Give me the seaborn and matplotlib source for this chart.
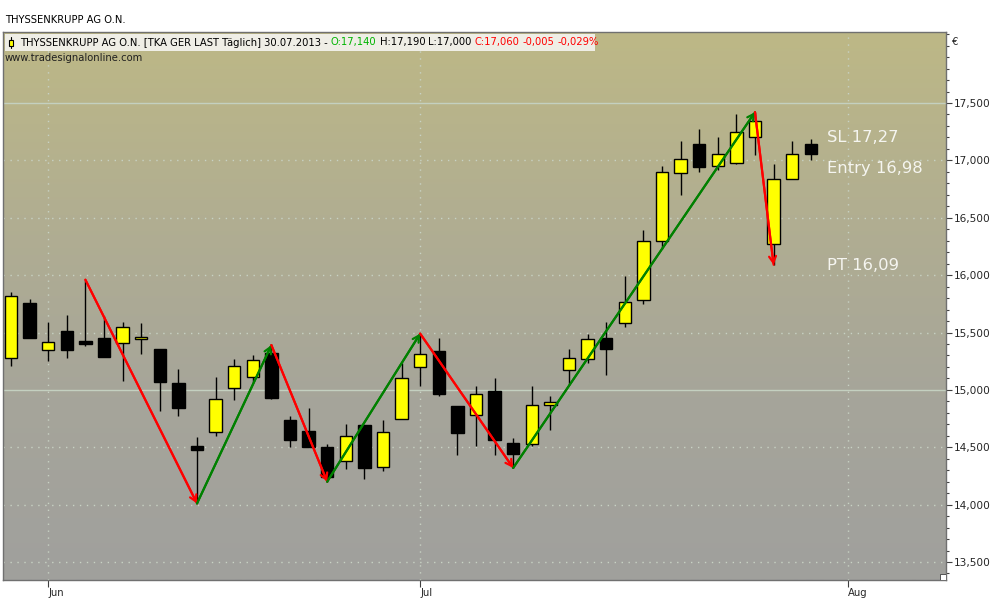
import numpy as np
import pandas as pd
import matplotlib
matplotlib.use("Agg")
import matplotlib.pyplot as plt
import seaborn as sns
from matplotlib.patches import Rectangle
from matplotlib.colors import LinearSegmentedColormap
from matplotlib.ticker import FixedLocator, MultipleLocator, FuncFormatter

# ---------------- data ----------------
dates = pd.bdate_range("2013-05-30", "2013-07-30")
opens = [15.28, 15.76, 15.35, 15.51, 15.43, 15.45, 15.41, 15.44, 15.36, 15.06,
         14.51, 14.63, 15.02, 15.11, 15.32, 14.74, 14.64, 14.50, 14.38, 14.69,
         14.33, 14.75, 15.20, 15.34, 14.86, 14.78, 14.99, 14.54, 14.53, 14.87,
         15.17, 15.27, 15.45, 15.58, 15.78, 16.30, 16.89, 17.14, 16.95, 16.98,
         17.20, 16.27, 16.84, 17.14]
highs = [15.85, 15.79, 15.59, 15.65, 15.96, 15.64, 15.59, 15.58, 15.36, 15.18,
         14.59, 15.11, 15.27, 15.30, 15.39, 14.77, 14.84, 14.53, 14.70, 14.69,
         14.74, 15.23, 15.49, 15.45, 14.86, 15.03, 15.10, 14.58, 15.03, 14.95,
         15.36, 15.49, 15.59, 15.99, 16.39, 16.95, 17.17, 17.27, 17.20, 17.40,
         17.42, 16.97, 17.17, 17.19]
lows = [15.21, 15.45, 15.25, 15.28, 15.38, 15.29, 15.08, 15.31, 14.82, 14.77,
        14.01, 14.60, 14.91, 15.07, 14.92, 14.50, 14.50, 14.20, 14.31, 14.22,
        14.29, 14.75, 15.03, 14.95, 14.43, 14.51, 14.43, 14.32, 14.51, 14.65,
        15.04, 15.23, 15.13, 15.55, 15.75, 16.23, 16.70, 16.90, 16.92, 16.97,
        17.05, 16.09, 16.84, 17.00]
closes = [15.82, 15.45, 15.42, 15.35, 15.40, 15.29, 15.55, 15.46, 15.07, 14.84,
          14.48, 14.92, 15.21, 15.26, 14.93, 14.56, 14.50, 14.24, 14.60, 14.32,
          14.63, 15.10, 15.31, 14.96, 14.62, 14.96, 14.56, 14.44, 14.87, 14.89,
          15.28, 15.44, 15.36, 15.77, 16.30, 16.90, 17.01, 16.94, 17.06, 17.25,
          17.34, 16.84, 17.06, 17.06]

# zigzag pivots (candle index, 'H' high / 'L' low)
pivot_idx = [4, 10, 14, 17, 22, 27, 40, 41]
pivot_kind = ["H", "L", "H", "L", "H", "L", "H", "L"]

month_ticks = ["2013-06-03", "2013-07-01", "2013-08-01"]
month_labels = ["Jun", "Jul", "Aug"]
price_ticks = [13.5, 14.0, 14.5, 15.0, 15.5, 16.0, 16.5, 17.0, 17.5]

trade_levels = ["SL 17,27", "Entry 16,98", "PT 16,09"]

header_parts = [
    ("THYSSENKRUPP AG O.N. [TKA GER LAST Täglich] 30.07.2013 -", "#000000"),
    ("O:17,140", "#00b400"),
    ("H:17,190", "#000000"),
    ("L:17,000", "#000000"),
    ("C:17,060", "#ff0000"),
    ("-0,005", "#ff0000"),
    ("-0,029%", "#ff0000"),
]

# ---------------- style ----------------
sns.set_style("white")
plt.rcParams["font.family"] = ["DejaVu Sans"]
FS = 7.2

fig = plt.figure(figsize=(10, 6), dpi=100)
fig.patch.set_facecolor("white")
ax = fig.add_axes([3 / 1000, 1 - 580 / 600, 943 / 1000, 548 / 600])

n = len(dates)
xs = np.arange(n)
all_days = pd.bdate_range(dates[0], "2013-08-30")
tick_pos = [all_days.get_loc(pd.Timestamp(d)) for d in month_ticks]

xlim = (-0.43, 50.27)
ylim = (13.343, 18.119)

# background gradient (top khaki -> bottom grey)
cmap = LinearSegmentedColormap.from_list(
    "bg", ["#bdb886", "#b1ae91", "#a6a59a", "#a0a09d"])
grad = np.linspace(0, 1, 256).reshape(-1, 1)
ax.imshow(grad, aspect="auto", cmap=cmap,
          extent=(xlim[0], xlim[1], ylim[0], ylim[1]),
          zorder=0, origin="upper")
ax.set_xlim(*xlim)
ax.set_ylim(*ylim)

# grid
for lev in price_ticks:
    if abs(lev - 15.0) < 1e-6 or abs(lev - 17.5) < 1e-6:
        ax.axhline(lev, color="#c4d0c0", lw=1.0, zorder=1)
    else:
        ax.axhline(lev, color="#c8d2c4", lw=1.0, ls=(0, (1, 4)), zorder=1)
for tp in tick_pos:
    ax.axvline(tp, color="#c8d2c4", lw=1.0, ls=(0, (1, 4)), zorder=1)

# candles
bw = 0.67
for i in range(n):
    o, h, l, c = opens[i], highs[i], lows[i], closes[i]
    ax.vlines(xs[i], l, h, color="black", lw=1.0, zorder=3)
    up = c >= o
    bot = min(o, c)
    ht = max(abs(c - o), 0.012)
    ax.add_patch(Rectangle((xs[i] - bw / 2, bot), bw, ht,
                           facecolor="#ffff00" if up else "black",
                           edgecolor="black", lw=1.0, zorder=4))

# zigzag
pts = []
for k, idx in enumerate(pivot_idx):
    pts.append((idx, highs[idx] if pivot_kind[k] == "H" else lows[idx]))
rows = []
seg_colors = []
for s in range(len(pts) - 1):
    (x0, y0), (x1, y1) = pts[s], pts[s + 1]
    rows.append({"x": x0, "y": y0, "seg": s})
    rows.append({"x": x1, "y": y1, "seg": s})
    seg_colors.append("#ff0000" if y1 < y0 else "#008000")
zz = pd.DataFrame(rows)
sns.lineplot(data=zz, x="x", y="y", hue="seg", palette=seg_colors,
             legend=False, sort=False, estimator=None, lw=1.5, ax=ax, zorder=6)
for s in range(len(pts) - 1):
    ax.annotate("", xy=pts[s + 1], xytext=pts[s],
                arrowprops=dict(arrowstyle="->,head_length=0.45,head_width=0.25",
                                color=seg_colors[s], lw=1.6,
                                shrinkA=0, shrinkB=0), zorder=7)

# trade level labels
for txt, yf in zip(trade_levels, [0.808, 0.750, 0.573]):
    ax.text(0.874, yf, txt, transform=ax.transAxes, color="#f5f5f0",
            fontsize=11.8, va="center", ha="left", zorder=8)

ax.set_xlabel("")
ax.set_ylabel("")

# axes styling
for sp in ax.spines.values():
    sp.set_color("#707070")
    sp.set_linewidth(1.0)
ax.yaxis.tick_right()
ax.yaxis.set_major_locator(FixedLocator(price_ticks))
ax.yaxis.set_minor_locator(MultipleLocator(0.1))
ax.yaxis.set_major_formatter(FuncFormatter(lambda v, _: f"{v:.3f}".replace(".", ",")))
ax.tick_params(axis="y", which="major", length=4, width=0.8, color="#404040",
               direction="out", labelsize=7.6, pad=2, right=True, left=False)
ax.tick_params(axis="y", which="minor", length=2, width=0.8, color="#404040",
               direction="out", right=True, left=False)
ax.set_xticks(tick_pos)
ax.set_xticklabels(month_labels, ha="left")
ax.tick_params(axis="x", length=5, width=0.8, color="#404040", direction="out",
               labelsize=FS, pad=1, bottom=True)

# resize glyph bottom right
ax.add_patch(Rectangle((0.9935, 0.0), 0.0065, 0.011, transform=ax.transAxes,
                       facecolor="white", edgecolor="#404040", lw=0.6, zorder=9))

# euro sign
fig.text(952 / 1000, 1 - 42 / 600, "€", fontsize=FS, va="center", ha="left")

# title above
fig.text(5 / 1000, 1 - 20 / 600, "THYSSENKRUPP AG O.N.", fontsize=FS,
         va="center", ha="left", color="#000000")

# header box
fig.patches.append(Rectangle((5 / 1000, 1 - 51 / 600), 590 / 1000, 17 / 600,
                             transform=fig.transFigure, facecolor="#efeee6",
                             edgecolor="none", zorder=5))
# legend icon
fig.lines.append(plt.Line2D([10.5 / 1000, 10.5 / 1000], [1 - 48 / 600, 1 - 37 / 600],
                            transform=fig.transFigure, color="black", lw=0.8, zorder=6))
fig.patches.append(Rectangle((8.5 / 1000, 1 - 46 / 600), 4 / 1000, 6 / 600,
                             transform=fig.transFigure, facecolor="#ffff00",
                             edgecolor="black", lw=0.8, zorder=7))

fig.canvas.draw()
r = fig.canvas.get_renderer()
tmp = fig.text(0, 0, "a a", fontsize=FS)
w1 = tmp.get_window_extent(r).width
tmp.set_text("aa")
w2 = tmp.get_window_extent(r).width
tmp.remove()
space = (w1 - w2) / fig.bbox.width
xpos = 20 / 1000
for s, col in header_parts:
    t = fig.text(xpos, 1 - 42.5 / 600, s, fontsize=FS, color=col,
                 va="center", ha="left", zorder=8)
    xpos += t.get_window_extent(r).width / fig.bbox.width + space

fig.text(5 / 1000, 1 - 58 / 600, "www.tradesignalonline.com", fontsize=FS,
         va="center", ha="left", color="#202020", zorder=8)

fig.savefig("out.png", dpi=100)
